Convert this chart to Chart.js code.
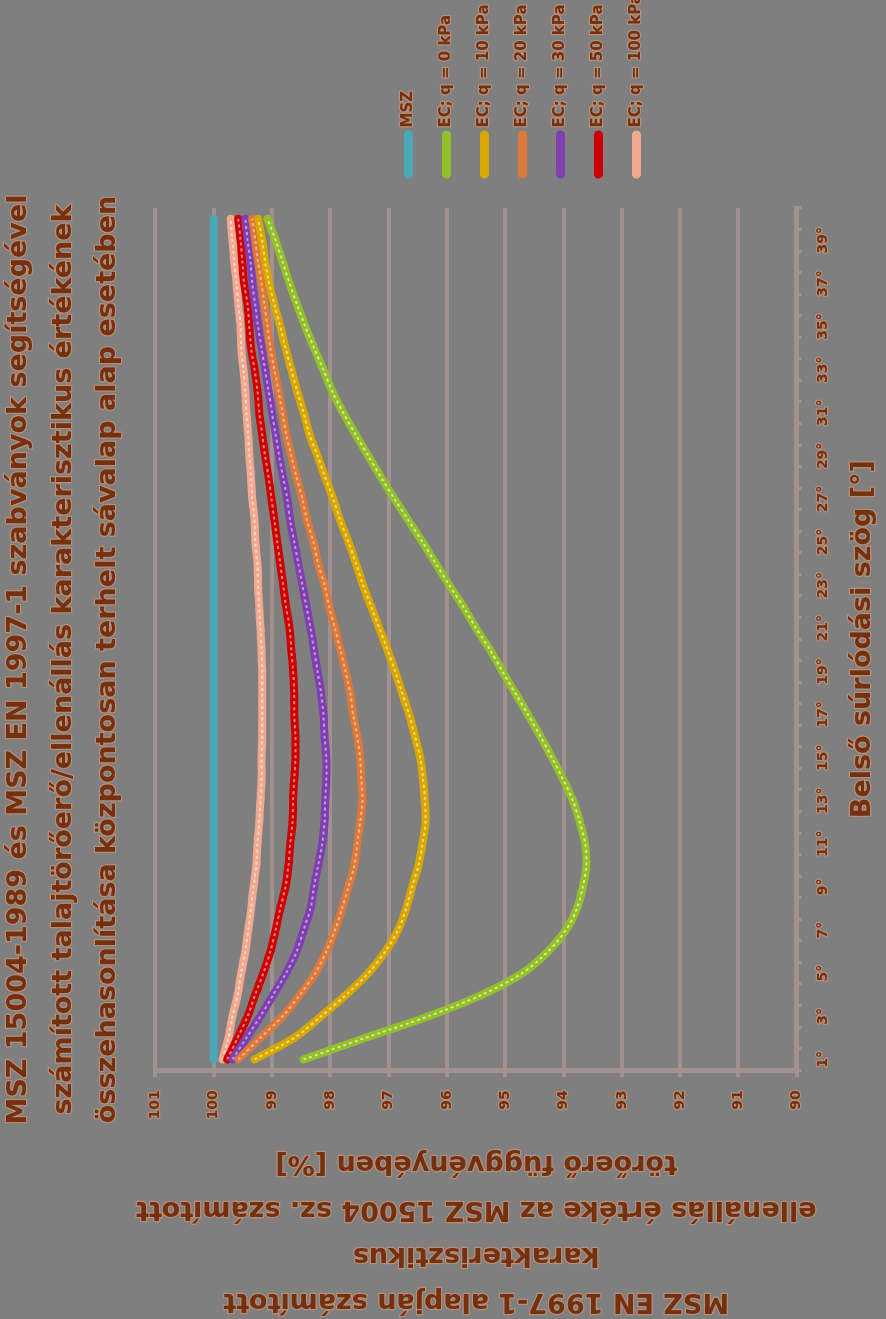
<!DOCTYPE html>
<html>
<head>
<meta charset="utf-8">
<script src="https://cdn.jsdelivr.net/npm/chart.js@4.4.1/dist/chart.umd.min.js"></script>
<style>
html,body{margin:0;padding:0;background:#7f7f7f;width:886px;height:1319px;overflow:hidden;}
#wrap{position:absolute;left:0;top:0;width:1319px;height:886px;transform-origin:0 0;transform:translateY(1319px) rotate(-90deg);}
canvas{display:block;background:#7f7f7f;}
</style>
</head>
<body>
<div id="wrap"><canvas id="c" width="1319" height="886" style="width:1319px;height:886px"></canvas></div>
<script>
// Category axis: internal friction angle [°]
const angles = [1,2,3,4,5,6,7,8,9,10,11,12,13,14,15,16,17,18,19,20,21,22,23,24,25,26,27,28,29,30,31,32,33,34,35,36,37,38,39,40];

// Value axis ticks [%]
const valueTicks = [90,91,92,93,94,95,96,97,98,99,100,101];

// Series values [%]
const msz   = [100,100,100,100,100,100,100,100,100,100,100,100,100,100,100,100,100,100,100,100,100,100,100,100,100,100,100,100,100,100,100,100,100,100,100,100,100,100,100,100];
const ec0   = [98.46,97.40,96.32,95.40,94.71,94.27,93.96,93.77,93.67,93.61,93.63,93.72,93.84,94.01,94.20,94.40,94.61,94.83,95.05,95.26,95.50,95.72,95.96,96.19,96.42,96.66,96.90,97.13,97.35,97.57,97.78,97.97,98.12,98.28,98.43,98.57,98.70,98.82,98.94,99.08];
const ec10  = [99.30,98.62,98.16,97.73,97.35,97.06,96.84,96.70,96.60,96.49,96.42,96.37,96.38,96.41,96.46,96.55,96.65,96.77,96.89,97.02,97.16,97.30,97.44,97.56,97.69,97.83,97.95,98.09,98.22,98.36,98.46,98.57,98.67,98.77,98.86,98.96,99.05,99.12,99.17,99.24];
const ec20  = [99.58,99.20,98.82,98.52,98.26,98.07,97.92,97.80,97.69,97.59,97.54,97.49,97.45,97.47,97.49,97.54,97.61,97.66,97.74,97.83,97.92,98.02,98.10,98.21,98.29,98.40,98.48,98.58,98.67,98.76,98.82,98.89,98.96,99.03,99.08,99.13,99.18,99.24,99.29,99.34];
const ec30  = [99.68,99.44,99.20,98.98,98.76,98.58,98.46,98.34,98.28,98.21,98.14,98.10,98.09,98.07,98.07,98.10,98.12,98.16,98.22,98.28,98.34,98.41,98.48,98.55,98.62,98.69,98.74,98.81,98.88,98.94,99.00,99.06,99.12,99.18,99.24,99.29,99.34,99.37,99.42,99.46];
const ec50  = [99.77,99.59,99.42,99.29,99.15,99.03,98.94,98.86,98.77,98.72,98.69,98.65,98.64,98.62,98.60,98.60,98.62,98.62,98.64,98.67,98.70,98.76,98.81,98.86,98.91,98.96,99.01,99.06,99.12,99.17,99.22,99.25,99.30,99.36,99.39,99.42,99.48,99.51,99.54,99.58];
const ec100 = [99.85,99.75,99.68,99.59,99.53,99.46,99.41,99.36,99.32,99.27,99.25,99.22,99.20,99.18,99.18,99.17,99.17,99.17,99.17,99.18,99.20,99.22,99.24,99.25,99.29,99.30,99.34,99.36,99.39,99.41,99.44,99.46,99.49,99.53,99.54,99.58,99.61,99.65,99.68,99.71];

const seriesLabels = ['MSZ','EC; q = 0 kPa','EC; q = 10 kPa','EC; q = 20 kPa','EC; q = 30 kPa','EC; q = 50 kPa','EC; q = 100 kPa'];
const seriesValues = [msz, ec0, ec10, ec20, ec30, ec50, ec100];

const titleLines = [
  'MSZ 15004-1989 és MSZ EN 1997-1 szabványok segítségével',
  'számított talajtörőerő/ellenállás karakterisztikus értékének',
  'összehasonlítása központosan terhelt sávalap alap esetében'
];
const yTitleLines = [
  'MSZ EN 1997-1 alapján számított',
  'karakterisztikus',
  'ellenállás értéke az MSZ 15004 sz. számított',
  'törőerő függvényében [%]'
];
const xTitle = 'Belső súrlódási szög [°]';

const seriesColors = ['#4aa8b8','#93bf2b','#d8a600','#dc783a','#7f3fae','#cc0000','#f1a88e'];
const highlightColors = [null,'#d2ec8a','#fbdc6a','#fbb78a','#c29ae4','#ff8080','#ffdccd'];
const FONT = "'DejaVu Sans', Verdana, sans-serif";
const TXT = '#74300f';
const GRID = '#a3918f';

const datasets = [];
seriesValues.forEach((vals, k) => {
  datasets.push({
    label: seriesLabels[k], data: vals,
    borderColor: seriesColors[k], backgroundColor: seriesColors[k],
    borderWidth: 8, borderCapStyle: 'round', borderJoinStyle: 'round',
    pointRadius: 0, tension: 0.3, order: 20 + 2 * k
  });
  if (highlightColors[k]) {
    datasets.push({
      label: seriesLabels[k] + ' ', data: vals,
      borderColor: highlightColors[k], backgroundColor: highlightColors[k],
      borderWidth: 2, borderDash: [3, 3], pointRadius: 0, tension: 0.3,
      order: 19 + 2 * k
    });
  }
});

const glowText = {
  id: 'glowText',
  beforeDraw(chart) {
    const ctx = chart.ctx;
    if (ctx._glowPatched) return;
    const orig = ctx.fillText.bind(ctx);
    ctx.fillText = function (t, x, y, mw) {
      ctx.save();
      ctx.strokeStyle = 'rgba(232,160,120,0.5)';
      ctx.lineWidth = 2.5;
      ctx.lineJoin = 'round';
      if (mw !== undefined) ctx.strokeText(t, x, y, mw); else ctx.strokeText(t, x, y);
      ctx.restore();
      if (mw !== undefined) orig(t, x, y, mw); else orig(t, x, y);
    };
    ctx._glowPatched = true;
  }
};

// keep an 11px gap between plot area and legend
const legendGap = {
  id: 'legendGap',
  afterLayout(chart) {
    if (chart.legend) { chart.legend.left += 11; chart.legend.right += 11; }
  }
};

new Chart(document.getElementById('c'), {
  type: 'line',
  data: { labels: angles, datasets },
  plugins: [glowText, legendGap],
  options: {
    responsive: false, animation: false, devicePixelRatio: 1,
    layout: { padding: 0 },
    plugins: {
      tooltip: { enabled: false },
      title: {
        display: true, text: titleLines, color: TXT,
        font: { family: FONT, size: 27, weight: 'bold', lineHeight: 1.648 },
        padding: { top: -3, bottom: 25 }
      },
      legend: {
        position: 'right', align: 'center', maxWidth: 208,
        title: { display: true, text: '', padding: { top: 0, bottom: 144.6 }, font: { size: 12 } },
        labels: {
          color: TXT, font: { family: FONT, size: 15, weight: 'bold' },
          usePointStyle: true, pointStyle: 'line', pointStyleWidth: 39, padding: 23,
          generateLabels: (chart) => seriesLabels.map((t, i) => ({
            text: t, strokeStyle: seriesColors[i], fillStyle: seriesColors[i],
            lineWidth: 9, lineCap: 'round', pointStyle: 'line', hidden: false,
            fontColor: TXT, datasetIndex: i
          }))
        }
      }
    },
    scales: {
      x: {
        type: 'category', offset: true,
        grid: { display: true, drawOnChartArea: false, drawTicks: true, tickLength: 5, color: GRID, lineWidth: 3, offset: true },
        border: { display: true, color: GRID, width: 5 },
        ticks: {
          autoSkip: false, maxRotation: 0, minRotation: 0, color: TXT, padding: 13,
          font: { family: FONT, size: 14, weight: 'bold' },
          callback: (v, i) => (i % 2 === 0 ? angles[i] + '°' : '')
        },
        title: {
          display: true, text: xTitle, color: TXT,
          font: { family: FONT, size: 27, weight: 'bold', lineHeight: 1.2 },
          padding: { top: 2, bottom: 7 }
        }
      },
      y: {
        type: 'linear', min: valueTicks[0], max: valueTicks[valueTicks.length - 1],
        afterBuildTicks: (s) => { s.ticks = valueTicks.map(v => ({ value: v })); },
        grid: { color: GRID, lineWidth: 4, tickLength: 7, drawTicks: true },
        border: { display: true, color: GRID, width: 5 },
        ticks: { color: TXT, padding: 13, font: { family: FONT, size: 14, weight: 'bold' } },
        title: {
          display: true, text: yTitleLines, color: TXT,
          font: { family: FONT, size: 27, weight: 'bold', lineHeight: 1.7 },
          padding: { top: -5, bottom: 8 }
        }
      }
    }
  }
});
</script>
</body>
</html>
